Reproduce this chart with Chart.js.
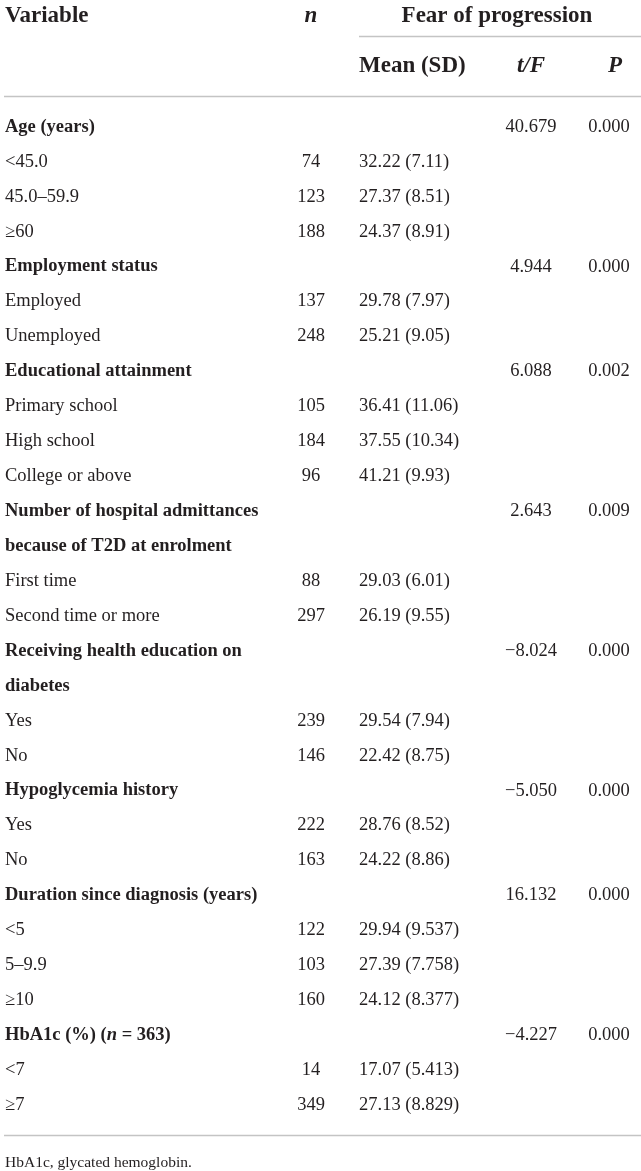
<!DOCTYPE html>
<html>
<head>
<meta charset="utf-8">
<script src="https://cdn.jsdelivr.net/npm/chart.js@4.4.1/dist/chart.umd.min.js"></script>
<style>
  html, body { margin: 0; padding: 0; background: #fff; overflow: hidden; }
  #wrap { position: relative; width: 641px; height: 1171px; }
</style>
</head>
<body>
<div id="wrap"><canvas id="fopTable"></canvas></div>
<script>
// rows of the table (variable column)
const variables = [
  "Age (years)", "<45.0", "45.0–59.9", "≥60",
  "Employment status", "Employed", "Unemployed",
  "Educational attainment", "Primary school", "High school", "College or above",
  "Number of hospital admittances", "because of T2D at enrolment", "First time", "Second time or more",
  "Receiving health education on", "diabetes", "Yes", "No",
  "Hypoglycemia history", "Yes", "No",
  "Duration since diagnosis (years)", "<5", "5–9.9", "≥10",
  "HbA1c (%) (n = 363)", "<7", "≥7"
];
// heading rows are bold
const groupRows = [0, 4, 7, 11, 12, 15, 16, 19, 22, 26];

const nValues = [null, 74, 123, 188, null, 137, 248, null, 105, 184, 96, null, null, 88, 297,
  null, null, 239, 146, null, 222, 163, null, 122, 103, 160, null, 14, 349];
const meanValues = [null, 32.22, 27.37, 24.37, null, 29.78, 25.21, null, 36.41, 37.55, 41.21, null, null, 29.03, 26.19,
  null, null, 29.54, 22.42, null, 28.76, 24.22, null, 29.94, 27.39, 24.12, null, 17.07, 27.13];
const sdValues = [null, 7.11, 8.51, 8.91, null, 7.97, 9.05, null, 11.06, 10.34, 9.93, null, null, 6.01, 9.55,
  null, null, 7.94, 8.75, null, 8.52, 8.86, null, 9.537, 7.758, 8.377, null, 5.413, 8.829];
const tfValues = [40.679, null, null, null, 4.944, null, null, 6.088, null, null, null, 2.643, null, null, null,
  -8.024, null, null, null, -5.050, null, null, 16.132, null, null, null, -4.227, null, null];
const pValues = [0.000, null, null, null, 0.000, null, null, 0.002, null, null, null, 0.009, null, null, null,
  0.000, null, null, null, 0.000, null, null, 0.000, null, null, null, 0.000, null, null];

const footnote = "HbA1c, glycated hemoglobin.";

// column layout on the hidden x scale (0..641)
const COL = { variable: 5, n: 311, mean: 359, tf: 531, p: 609, fear: 497 };
const SERIF = "'Liberation Serif', 'Times New Roman', serif";
const INK = "#231f20";
const RULE = "#c4c4c4";

function fmtNum(v) {
  return v.toFixed(3).replace("-", "−");
}

const tablePlugin = {
  id: "tablePlugin",
  afterDraw(chart) {
    const ctx = chart.ctx;
    const x = chart.scales.x;
    const y = chart.scales.y;
    const px = v => x.getPixelForValue(v);
    ctx.save();
    ctx.fillStyle = INK;
    ctx.textBaseline = "middle";

    // header
    ctx.font = "bold 23px " + SERIF;
    ctx.textAlign = "left";
    ctx.fillText("Variable", px(COL.variable), 16);
    ctx.textAlign = "center";
    ctx.fillText("Fear of progression", px(COL.fear), 16);
    ctx.textAlign = "left";
    ctx.fillText("Mean (SD)", px(COL.mean), 66);
    ctx.font = "italic bold 23px " + SERIF;
    ctx.textAlign = "center";
    ctx.fillText("n", px(COL.n), 16);
    ctx.fillText("t/F", px(COL.tf), 66);
    ctx.fillText("P", px(COL.p) + 6, 66);

    // rules
    ctx.strokeStyle = RULE;
    ctx.lineWidth = 1.5;
    ctx.beginPath();
    ctx.moveTo(px(COL.mean), 36.5); ctx.lineTo(chart.width, 36.5);
    ctx.moveTo(4, 96.5); ctx.lineTo(chart.width, 96.5);
    ctx.moveTo(4, 1135.5); ctx.lineTo(chart.width, 1135.5);
    ctx.stroke();

    // body rows
    variables.forEach((label, i) => {
      const yy = y.getPixelForValue(i);
      const bold = groupRows.includes(i);
      ctx.textAlign = "left";
      if (label.includes("(n = ")) {
        // italic n inside the heading
        const parts = label.split("n = ");
        let cx = px(COL.variable);
        ctx.font = "bold 18.5px " + SERIF;
        ctx.fillText(parts[0], cx, yy);
        cx += ctx.measureText(parts[0]).width;
        ctx.font = "italic bold 18.5px " + SERIF;
        ctx.fillText("n", cx, yy);
        cx += ctx.measureText("n ").width;
        ctx.font = "bold 18.5px " + SERIF;
        ctx.fillText("= " + parts[1], cx, yy);
      } else {
        ctx.font = (bold ? "bold " : "") + "18.5px " + SERIF;
        ctx.fillText(label, px(COL.variable), yy);
      }

      ctx.font = "18.5px " + SERIF;
      if (nValues[i] !== null) {
        ctx.textAlign = "center";
        ctx.fillText(String(nValues[i]), px(COL.n), yy);
      }
      if (meanValues[i] !== null) {
        ctx.textAlign = "left";
        ctx.fillText(meanValues[i].toFixed(2) + " (" + sdValues[i] + ")", px(COL.mean), yy);
      }
      if (tfValues[i] !== null) {
        ctx.textAlign = "center";
        ctx.fillText(fmtNum(tfValues[i]), px(COL.tf), yy);
      }
      if (pValues[i] !== null) {
        ctx.textAlign = "center";
        ctx.fillText(pValues[i].toFixed(3), px(COL.p), yy);
      }
    });

    // footnote
    ctx.font = "15.5px " + SERIF;
    ctx.textAlign = "left";
    ctx.fillText(footnote, px(COL.variable), 1163);
    ctx.restore();
  }
};

new Chart(document.getElementById("fopTable"), {
  type: "bar",
  data: {
    labels: variables,
    datasets: [{
      data: nValues,
      backgroundColor: "rgba(0,0,0,0)",
      borderWidth: 0
    }]
  },
  options: {
    indexAxis: "y",
    responsive: true,
    maintainAspectRatio: false,
    animation: false,
    events: [],
    layout: { padding: { left: 0, right: 0, top: 109.5, bottom: 48.5 } },
    plugins: {
      legend: { display: false },
      tooltip: { enabled: false }
    },
    scales: {
      x: { type: "linear", min: 0, max: 641, display: false },
      y: { type: "category", display: false, offset: true }
    }
  },
  plugins: [tablePlugin]
});
</script>
</body>
</html>
